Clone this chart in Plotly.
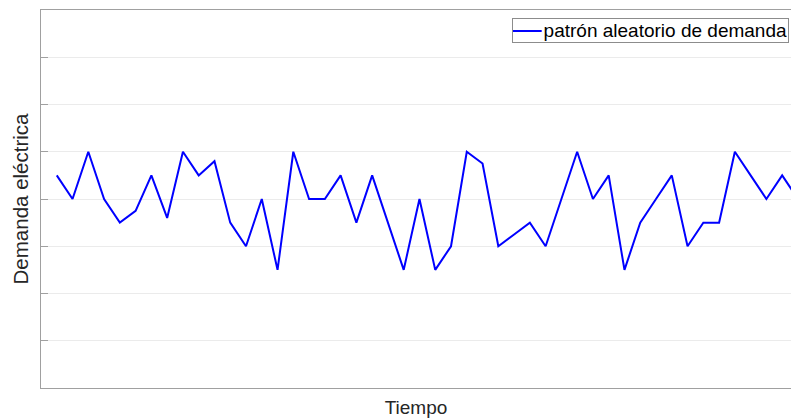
import plotly.graph_objects as go

t = list(range(1, 49))
demanda = [4.5, 4, 5, 4, 3.5, 3.75, 4.5, 3.6, 5, 4.5, 4.8, 3.5, 3, 4, 2.5, 5,
           4, 4, 4.5, 3.5, 4.5, 3.5, 2.5, 4, 2.5, 3, 5, 4.75, 3, 3.25, 3.5, 3,
           4, 5, 4, 4.5, 2.5, 3.5, 4, 4.5, 3, 3.5, 3.5, 5, 4.5, 4, 4.5, 4]
ytick_vals = [1, 2, 3, 4, 5, 6, 7]
serie_nombre = "patrón aleatorio de demanda"
line_color = "#0000ff"

L, T, B = 41, 10, 32
W, H = 791, 420
pw, ph = W - L, H - T - B

def px(x):
    return (x - L) / pw

def py(y):
    return (H - B - y) / ph

fig = go.Figure()
fig.add_trace(go.Scatter(x=t, y=demanda, mode="lines", name=serie_nombre,
                         line=dict(color=line_color, width=2), showlegend=False))

# legend drawn as a bordered text box with a sample line
fig.add_annotation(xref="paper", yref="paper", x=px(788.7), y=py(18.3),
                   xanchor="right", yanchor="top", showarrow=False,
                   text=serie_nombre, width=273, align="right",
                   font=dict(size=19, color="#000000"),
                   bordercolor="#8c8c8c", borderwidth=1, borderpad=1,
                   bgcolor="rgba(0,0,0,0)")
fig.add_shape(type="line", xref="paper", yref="paper",
              x0=px(512.7), x1=px(541.7), y0=py(31), y1=py(31),
              line=dict(color=line_color, width=2))

fig.update_layout(
    width=W, height=H,
    margin=dict(l=L, r=0, t=T, b=B, pad=0),
    paper_bgcolor="white", plot_bgcolor="white",
    font=dict(family="Liberation Sans, Arial, sans-serif", color="#262626"),
    showlegend=False,
    xaxis=dict(range=[0, 47.56], showgrid=False, zeroline=False,
               showline=True, linecolor="#a0a0a0", linewidth=1, mirror=True,
               showticklabels=False, ticks="",
               title=dict(text="Tiempo", font=dict(size=19, color="#262626"), standoff=12)),
    yaxis=dict(range=[0, 8], tickvals=ytick_vals, showticklabels=False,
               ticks="inside", ticklen=7, tickcolor="#a0a0a0",
               showgrid=True, gridcolor="#ebebeb", gridwidth=1, zeroline=False,
               showline=True, linecolor="#a0a0a0", linewidth=1, mirror=False,
               title=dict(text="Demanda eléctrica", font=dict(size=20.5, color="#262626"), standoff=5)),
)

fig.write_html("out.html", config={"displayModeBar": False},
               post_script="document.body.style.margin='0px';")
